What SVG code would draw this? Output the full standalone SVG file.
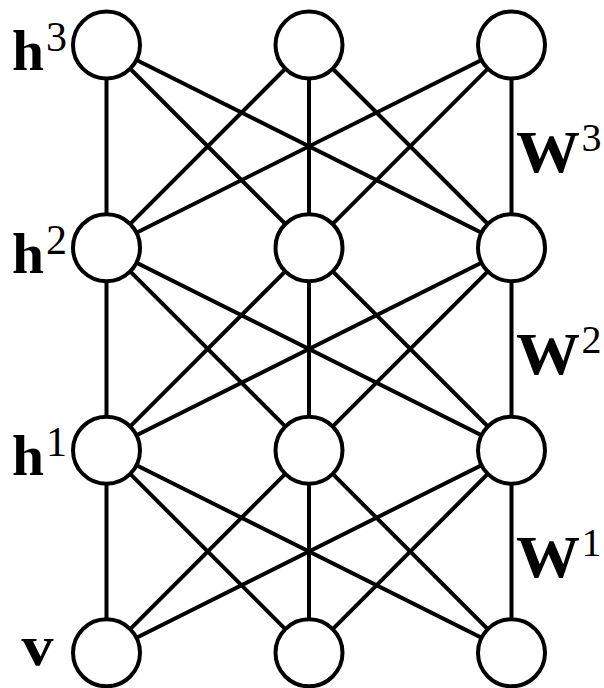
<svg xmlns="http://www.w3.org/2000/svg" width="604" height="688" viewBox="0 0 604 688">
<style>
.e{stroke:#000;stroke-width:4;stroke-linecap:butt}
.n{fill:#fff;stroke:#000;stroke-width:4}
.b{font-family:"Liberation Serif",serif;font-weight:bold;fill:#000}
.s{font-family:"Liberation Serif",serif;fill:#000}
</style>
<rect width="604" height="688" fill="#fff"/>
<g id="connectors" class="e">
<line x1="106.5" y1="45" x2="106.5" y2="247.7"/><line x1="106.5" y1="45" x2="309" y2="247.7"/><line x1="106.5" y1="45" x2="511.5" y2="247.7"/>
<line x1="309" y1="45" x2="106.5" y2="247.7"/><line x1="309" y1="45" x2="309" y2="247.7"/><line x1="309" y1="45" x2="511.5" y2="247.7"/>
<line x1="511.5" y1="45" x2="106.5" y2="247.7"/><line x1="511.5" y1="45" x2="309" y2="247.7"/><line x1="511.5" y1="45" x2="511.5" y2="247.7"/>
<line x1="106.5" y1="247.7" x2="106.5" y2="450.2"/><line x1="106.5" y1="247.7" x2="309" y2="450.2"/><line x1="106.5" y1="247.7" x2="511.5" y2="450.2"/>
<line x1="309" y1="247.7" x2="106.5" y2="450.2"/><line x1="309" y1="247.7" x2="309" y2="450.2"/><line x1="309" y1="247.7" x2="511.5" y2="450.2"/>
<line x1="511.5" y1="247.7" x2="106.5" y2="450.2"/><line x1="511.5" y1="247.7" x2="309" y2="450.2"/><line x1="511.5" y1="247.7" x2="511.5" y2="450.2"/>
<line x1="106.5" y1="450.2" x2="106.5" y2="652.8"/><line x1="106.5" y1="450.2" x2="309" y2="652.8"/><line x1="106.5" y1="450.2" x2="511.5" y2="652.8"/>
<line x1="309" y1="450.2" x2="106.5" y2="652.8"/><line x1="309" y1="450.2" x2="309" y2="652.8"/><line x1="309" y1="450.2" x2="511.5" y2="652.8"/>
<line x1="511.5" y1="450.2" x2="106.5" y2="652.8"/><line x1="511.5" y1="450.2" x2="309" y2="652.8"/><line x1="511.5" y1="450.2" x2="511.5" y2="652.8"/>
</g>
<g id="h3-1"><circle class="n" cx="106.5" cy="45" r="33.5"/></g>
<g id="h3-2"><circle class="n" cx="309" cy="45" r="33.5"/></g>
<g id="h3-3"><circle class="n" cx="511.5" cy="45" r="33.5"/></g>
<g id="h2-1"><circle class="n" cx="106.5" cy="247.7" r="33.5"/></g>
<g id="h2-2"><circle class="n" cx="309" cy="247.7" r="33.5"/></g>
<g id="h2-3"><circle class="n" cx="511.5" cy="247.7" r="33.5"/></g>
<g id="h1-1"><circle class="n" cx="106.5" cy="450.2" r="33.5"/></g>
<g id="h1-2"><circle class="n" cx="309" cy="450.2" r="33.5"/></g>
<g id="h1-3"><circle class="n" cx="511.5" cy="450.2" r="33.5"/></g>
<g id="v-1"><circle class="n" cx="106.5" cy="652.8" r="33.5"/></g>
<g id="v-2"><circle class="n" cx="309" cy="652.8" r="33.5"/></g>
<g id="v-3"><circle class="n" cx="511.5" cy="652.8" r="33.5"/></g>
<g id="labels">
<text class="b" x="12" y="70" font-size="56" textLength="32" lengthAdjust="spacingAndGlyphs">h</text><text class="s" x="46" y="51" font-size="42">3</text>
<text class="b" x="12" y="272.7" font-size="56" textLength="32" lengthAdjust="spacingAndGlyphs">h</text><text class="s" x="46" y="253.7" font-size="42">2</text>
<text class="b" x="12" y="475.2" font-size="56" textLength="32" lengthAdjust="spacingAndGlyphs">h</text><text class="s" x="46" y="456.2" font-size="42">1</text>
<text class="b" x="21.5" y="665" font-size="58" textLength="32" lengthAdjust="spacingAndGlyphs">v</text>
<text class="b" x="516" y="171.7" font-size="60" textLength="64" lengthAdjust="spacingAndGlyphs">W</text><text class="s" x="581.5" y="150.7" font-size="40">3</text>
<text class="b" x="516" y="374.3" font-size="60" textLength="64" lengthAdjust="spacingAndGlyphs">W</text><text class="s" x="581.5" y="353.3" font-size="40">2</text>
<text class="b" x="516" y="577" font-size="60" textLength="64" lengthAdjust="spacingAndGlyphs">W</text><text class="s" x="581.5" y="556" font-size="40">1</text>
</g>
</svg>
